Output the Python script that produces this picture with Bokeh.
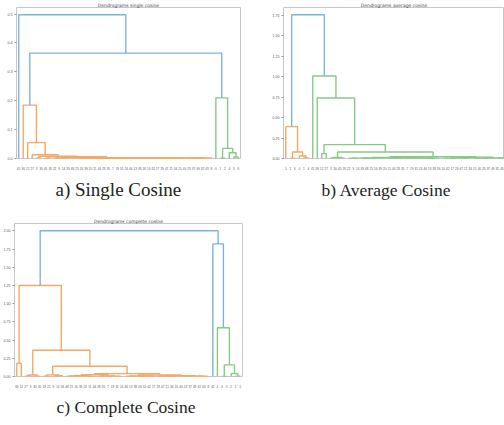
from bokeh.plotting import figure
from bokeh.layouts import column, row
from bokeh.models import Range1d, FixedTicker, PrintfTickFormatter, Title, ColumnDataSource
from bokeh.embed import file_html
from bokeh.resources import INLINE

# ---------------- data ----------------
# leaf labels (left to right) for each dendrogram
labels_a = [41, 36, 12, 27, 3, 30, 45, 18, 22, 9, 14, 33, 48, 25, 16, 39, 20, 11, 44, 28,
            35, 7, 19, 31, 24, 46, 13, 38, 26, 10, 42, 17, 29, 47, 21, 34, 15, 40, 23, 37,
            49, 32, 43, 8, 0, 1, 2, 4, 5, 6]
labels_b = [5, 2, 6, 0, 1, 4, 41, 36, 12, 27, 3, 30, 45, 18, 22, 9, 14, 33, 48, 25,
            16, 39, 20, 11, 44, 28, 35, 7, 19, 31, 24, 46, 13, 38, 26, 10, 42, 17, 29, 47,
            21, 34, 15, 40, 23, 37, 49, 32, 43, 8]
labels_c = [36, 12, 27, 3, 30, 45, 18, 22, 9, 14, 33, 48, 25, 16, 39, 20, 11, 44, 28, 35,
            7, 19, 31, 24, 46, 13, 38, 26, 10, 42, 17, 29, 47, 21, 34, 15, 40, 23, 37, 49,
            32, 43, 8, 41, 4, 6, 0, 2, 1, 5]

# cophenetic merge height between each pair of neighbouring leaves
gaps_a = [0.498, 0.185, 0.055, 0.013, 0.002, 0.008, 0.0012, 0.006, 0.0009, 0.0015,
          0.0011, 0.0032, 0.0014, 0.0006, 0.0010, 0.0004, 0.0012, 0.0008, 0.0005, 0.0011,
          0.0007, 0.0009, 0.0003, 0.0010, 0.0006, 0.0012, 0.0005, 0.0008, 0.0004, 0.0011,
          0.0007, 0.0009, 0.0005, 0.0010, 0.0006, 0.0008, 0.0004, 0.0012, 0.0007, 0.0009,
          0.0005, 0.0010, 0.0018, 0.365, 0.21, 0.0008, 0.035, 0.02, 0.005]
gaps_b = [0.39, 0.004, 0.08, 0.03, 0.008, 1.76, 1.01, 0.74, 0.06, 0.17,
          0.006, 0.012, 0.004, 0.08, 0.003, 0.0015, 0.004, 0.002, 0.0025, 0.001,
          0.005, 0.002, 0.012, 0.0018, 0.003, 0.001, 0.006, 0.0022, 0.0012, 0.004,
          0.0016, 0.0028, 0.001, 0.0035, 0.022, 0.002, 0.004, 0.0012, 0.007, 0.0015,
          0.003, 0.015, 0.002, 0.0045, 0.001, 0.003, 0.006, 0.0017, 0.0025]
gaps_c = [0.18, 1.25, 0.008, 0.02, 0.005, 0.36, 0.004, 0.022, 0.003, 0.01,
          0.14, 0.003, 0.006, 0.002, 0.012, 0.004, 0.001, 0.025, 0.003, 0.007,
          0.002, 0.005, 0.0015, 0.04, 0.004, 0.002, 0.008, 0.001, 0.005, 0.003,
          0.02, 0.002, 0.006, 0.0015, 0.004, 0.012, 0.002, 0.005, 0.001, 0.007,
          0.003, 0.002, 2.0, 1.82, 0.67, 0.0008, 0.16, 0.04, 0.005]

yticks_a = [0.0, 0.1, 0.2, 0.3, 0.4, 0.5]
yticks_b = [0.0, 0.25, 0.5, 0.75, 1.0, 1.25, 1.5, 1.75]
yticks_c = [0.0, 0.25, 0.5, 0.75, 1.0, 1.25, 1.5, 1.75, 2.0]

titles = ["Dendrograms single cosine", "Dendrograms average cosine", "Dendrograms complete cosine"]
captions = ["a) Single Cosine", "b) Average Cosine", "c) Complete Cosine"]

ABOVE = "#7db3db"
CLUSTER_COLORS = ["#f6a862", "#86ca86"]


# ------------- dendrogram layout (scipy style) -------------
def build_tree(gaps, lo, hi):
    if lo == hi:
        return lo
    k = max(range(lo, hi), key=lambda i: gaps[i])
    return (build_tree(gaps, lo, k), build_tree(gaps, k + 1, hi), gaps[k])


def dendro_links(gaps):
    n = len(gaps) + 1
    thr = 0.7 * max(gaps)
    tree = build_tree(gaps, 0, n - 1)
    xs, ys, cs = [], [], []
    cyc = iter(CLUSTER_COLORS * 5)

    def walk(t, color):
        if isinstance(t, int):
            return 5 + 10 * t, 0.0
        left, right, h = t
        if color is None and h < thr:
            color = next(cyc)
        lx, ly = walk(left, color)
        rx, ry = walk(right, color)
        xs.append([lx, lx, rx, rx])
        ys.append([ly, h, h, ry])
        cs.append(color if color else ABOVE)
        return (lx + rx) / 2.0, h

    walk(tree, None)
    return dict(xs=xs, ys=ys, color=cs)


def make_panel(title, caption, labels, gaps, yticks, yfmt, w, h, bl, br, bt, bb,
               cap_offset, cap_standoff, cap_size, xend=None):
    n = len(labels)
    ymax = max(gaps) * 1.05
    p = figure(width=w, height=h, output_backend="svg", toolbar_location=None,
               x_range=Range1d(0, xend if xend else 10 * n), y_range=Range1d(0, ymax),
               min_border_left=bl, min_border_right=br, min_border_top=bt,
               min_border_bottom=bb)
    p.grid.visible = False
    p.outline_line_color = "#c6c6c6"
    p.outline_line_width = 1
    p.background_fill_color = "white"
    p.border_fill_color = "white"

    src = ColumnDataSource(dendro_links(gaps))
    p.multi_line("xs", "ys", color="color", line_width=1.4, source=src)

    p.title.text = title
    p.title.align = "center"
    p.title.text_font = "DejaVu Sans"
    p.title.text_font_size = "4.5px"
    p.title.text_font_style = "normal"
    p.title.text_color = "#444444"
    p.title.text_line_height = 1.0
    p.title.standoff = 0

    ticks = [5 + 10 * i for i in range(n)]
    p.xaxis.ticker = FixedTicker(ticks=ticks)
    p.xaxis.major_label_overrides = {t: str(l) for t, l in zip(ticks, labels)}
    p.xaxis.major_label_text_font_size = "3px"
    p.xaxis.major_label_text_color = "#555555"
    p.xaxis.major_label_standoff = 2
    p.xaxis.major_tick_line_color = None
    p.xaxis.minor_tick_line_color = None
    p.xaxis.axis_line_color = None

    p.yaxis.ticker = FixedTicker(ticks=yticks)
    p.yaxis.formatter = PrintfTickFormatter(format=yfmt)
    p.yaxis.major_label_text_font_size = "3.6px"
    p.yaxis.major_label_text_color = "#555555"
    p.yaxis.major_label_standoff = 2
    p.yaxis.major_tick_out = 2
    p.yaxis.major_tick_in = 0
    p.yaxis.major_tick_line_color = "#999999"
    p.yaxis.minor_tick_line_color = None
    p.yaxis.axis_line_color = None

    p.add_layout(Title(text=caption, align="left", offset=cap_offset,
                       text_font="Liberation Serif", text_font_size=cap_size,
                       text_font_style="normal", text_color="#222222",
                       standoff=cap_standoff), "below")
    return p


pa = make_panel(titles[0], captions[0], labels_a, gaps_a, yticks_a, "%.1f",
                252, 215, 16, 12, 4, 57, 39, 9, "19px")
pb = make_panel(titles[1], captions[1], labels_b, gaps_b, yticks_b, "%.2f",
                252, 215, 31, 0, 4, 57, 38, 10, "17.5px", xend=491)
pc = make_panel(titles[2], captions[2], labels_c, gaps_c, yticks_c, "%.2f",
                252, 210, 13, 10, 8, 49, 42, 9, "17.5px")

layout = column(row(pa, pb), pc)
open("out.html", "w").write(file_html(layout, INLINE))
